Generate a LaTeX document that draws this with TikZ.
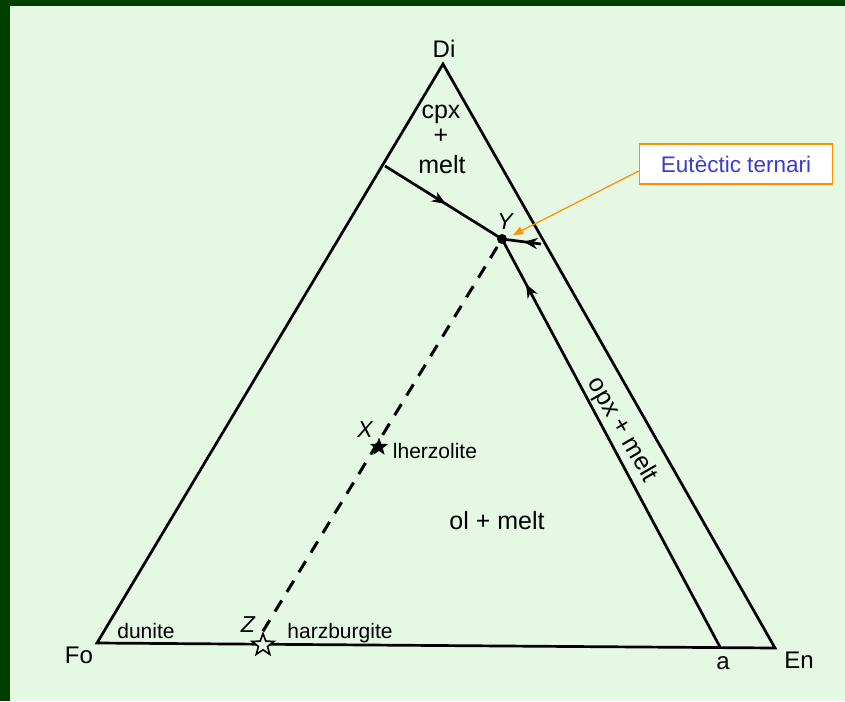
\documentclass[tikz,border=0pt]{standalone}
\usepackage{fontspec}
\setmainfont{Liberation Sans}
\usetikzlibrary{positioning}
\usetikzlibrary{arrows.meta}
\usetikzlibrary{shapes.geometric}
\usetikzlibrary{decorations.markings}
\definecolor{frame}{HTML}{003F00}
\definecolor{paper}{HTML}{E4F8E4}
\definecolor{callout}{HTML}{FF9200}
\definecolor{calltext}{HTML}{3B3BCC}

\begin{document}
\begin{tikzpicture}[x=1pt, y=-1pt, >=Stealth, line width=2.7pt,
  vtx/.style={font=\fontsize{24}{27}\selectfont, anchor=base, inner sep=0pt},
  field/.style={font=\fontsize{25}{28}\selectfont, anchor=base, inner sep=0pt},
  rock/.style={font=\fontsize{21}{24}\selectfont, anchor=base, inner sep=0pt},
  pt/.style={font=\itshape\fontsize{23}{26}\selectfont, anchor=base, inner sep=0pt},
  solid star/.style={star, star points=5, star point ratio=2.4, fill=black, minimum size=19pt, inner sep=0pt},
  open star/.style={star, star points=5, star point ratio=2.4, draw, fill=paper, line width=1.6pt, minimum size=23pt, inner sep=0pt},
  midarrow/.style={postaction={decorate}, decoration={markings, mark=at position #1 with {\arrow{Stealth[length=14pt, width=11pt]}}}}]

\useasboundingbox (0,0) rectangle (845,701);
\fill[frame] (0,0) rectangle (845,701);
\fill[paper] (10,6) rectangle (845,701);

% corners of the triangle
\coordinate (Fo) at (97,643);
\coordinate (Di) at (443,64);
\coordinate (En) at (775,648);
\coordinate (a) at (720,647);
\coordinate (Y) at (502,239);
\coordinate (cot) at (385,166);
\coordinate (side) at (541,244);

\draw[line join=miter] (Fo) -- (Di) -- (En) -- cycle;
\draw[midarrow=0.52] (cot) -- (Y);
\draw[midarrow=0.89] (a) -- (Y);
\draw[midarrow=0.45] (side) -- (Y);
\fill (Y) circle (5pt);

\node[solid star] (Xs) at (379,447) {};
\node[open star] (Zs) at (263,645) {};
\draw[line width=3pt, dash pattern=on 13pt off 10pt] (Zs.north) -- (Y);

\node[vtx] (DiL) at (444,57) {Di};
\node[vtx] (FoL) at (79,663) {Fo};
\node[vtx] (EnL) at (799,668) {En};
\node[vtx] (aL) at (723,669) {a};

\node[field] (cpx) at (441,118) {cpx};
\node[field] (plus) at (441,143) {+};
\node[field] (melt) at (442,173) {melt};
\node[field] (ol) at (497,529) {ol + melt};
\node[field, anchor=center, rotate=-60] (opx) at (622,430) {opx + melt};

\node[pt] (YL) at (505,229) {Y};
\node[pt] (XL) at (365,437) {X};
\node[pt] (ZL) at (248,632) {Z};

\node[rock] (lherz) at (435,458) {lherzolite};
\node[rock] (dun) at (146,638) {dunite};
\node[rock] (harz) at (340,638) {harzburgite};

\node[draw=callout, fill=white, line width=1.3pt, minimum width=193pt, minimum height=40pt,
  text=calltext, font=\fontsize{22.5}{25}\selectfont] (eut) at (736,164) {Eutèctic ternari};
\coordinate (tip) at (513,235);
\draw[callout, line width=1.3pt, -{Triangle[length=10pt, width=8pt]}] ([yshift=-7pt]eut.west) -- (tip);

\end{tikzpicture}
\end{document}
